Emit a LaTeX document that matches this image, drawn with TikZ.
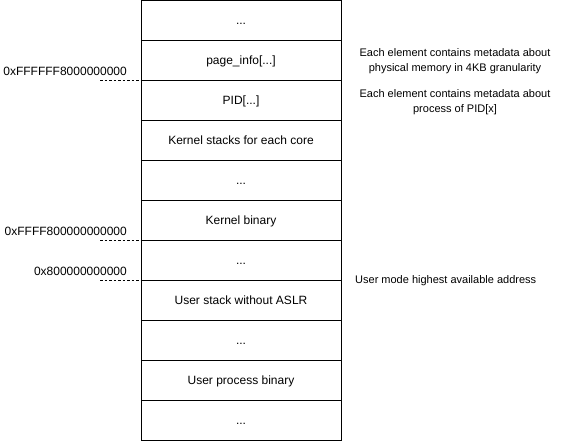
\documentclass[tikz,border=0pt]{standalone}
\usepackage{fontspec}
\setmainfont{Liberation Sans}
\begin{document}
\begin{tikzpicture}[x=1pt,y=-1pt,
  cell/.style={draw=black,line width=0.9pt,minimum width=200pt,minimum height=40pt,inner sep=0pt,outer sep=0pt,text height=10.6pt,text depth=2pt,font=\fontsize{12}{14}\selectfont},
  addr/.style={anchor=east,inner sep=0pt,font=\fontsize{12}{14}\selectfont},
  note/.style={align=center,inner sep=0pt,font=\fontsize{11}{15.5}\selectfont},
  tick/.style={draw=black,line width=0.8pt,dash pattern=on 2.5pt off 2pt}]
\useasboundingbox (0,0) rectangle (571,441);
\node[cell] (b0) at (241,20.5) {...};
\node[cell] (b1) at (241,60.5) {page\_info[...]};
\node[cell] (b2) at (241,100.5) {PID[...]};
\node[cell] (b3) at (241,140.5) {Kernel stacks for each core};
\node[cell] (b4) at (241,180.5) {...};
\node[cell] (b5) at (241,220.5) {Kernel binary};
\node[cell] (b6) at (241,260.5) {...};
\node[cell] (b7) at (241,300.5) {User stack without ASLR};
\node[cell] (b8) at (241,340.5) {...};
\node[cell] (b9) at (241,380.5) {User process binary};
\node[cell] (b10) at (241,420.5) {...};
\node[addr] (a1) at (127,71) {0xFFFFFF8000000000};
\node[addr] (a2) at (127,231) {0xFFFF800000000000};
\node[addr] (a3) at (127,271) {0x800000000000};
\coordinate (t1) at (100,80.5);
\coordinate (t2) at (100,240.5);
\coordinate (t3) at (100,280.5);
\draw[tick] (t1) -- (b1.south west);
\draw[tick] (t2) -- (b5.south west);
\draw[tick] (t3) -- (b6.south west);
\node[note] (n1) at (455,61) {Each element contains metadata about\\physical memory in 4KB granularity};
\node[note] (n2) at (455,102) {Each element contains metadata about\\process of PID[x]};
\node[note,anchor=west] (n3) at (355,281) {User mode highest available address};
\end{tikzpicture}
\end{document}
